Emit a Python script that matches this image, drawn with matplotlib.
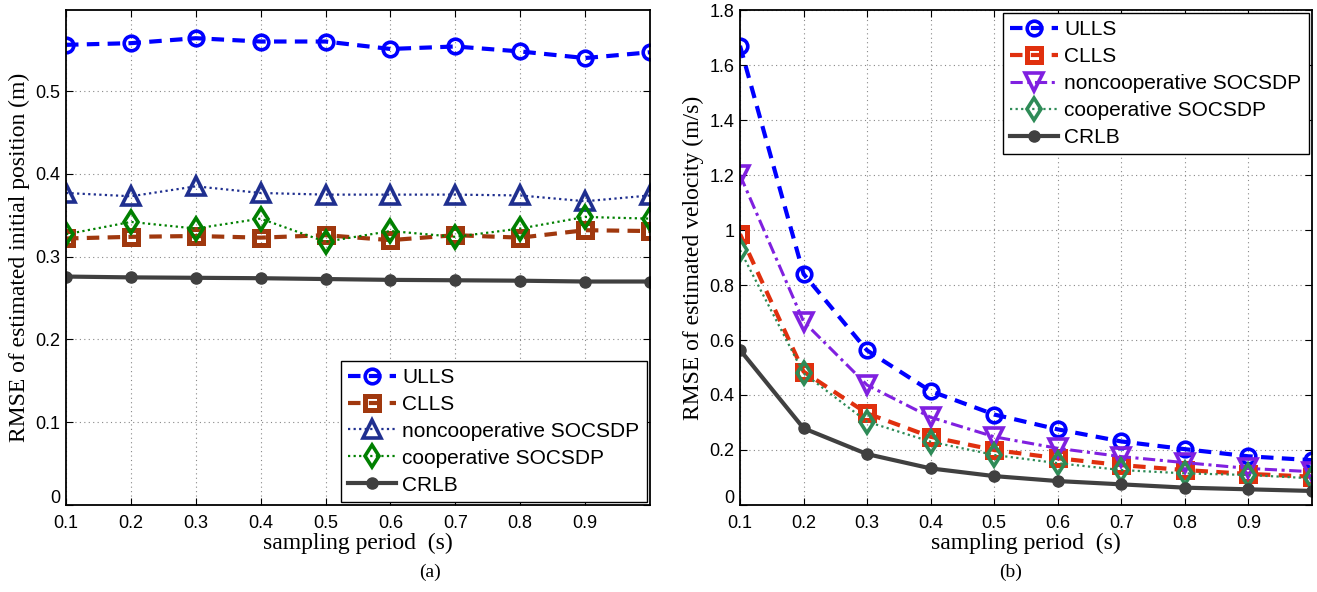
import matplotlib
matplotlib.use("Agg")
import matplotlib.pyplot as plt
import matplotlib.transforms as mtransforms

x = [0.1, 0.2, 0.3, 0.4, 0.5, 0.6, 0.7, 0.8, 0.9, 1.0]
xticks = [0.1, 0.2, 0.3, 0.4, 0.5, 0.6, 0.7, 0.8, 0.9]
labels = ["ULLS", "CLLS", "noncooperative SOCSDP", "cooperative SOCSDP", "CRLB"]

# (a) RMSE of estimated initial position
pos_ulls = [0.556, 0.558, 0.564, 0.560, 0.560, 0.551, 0.554, 0.548, 0.540, 0.547]
pos_clls = [0.322, 0.324, 0.325, 0.323, 0.326, 0.320, 0.326, 0.323, 0.332, 0.331]
pos_nonc = [0.377, 0.373, 0.385, 0.377, 0.375, 0.375, 0.375, 0.374, 0.367, 0.374]
pos_coop = [0.327, 0.342, 0.334, 0.346, 0.318, 0.331, 0.324, 0.334, 0.348, 0.346]
pos_crlb = [0.276, 0.275, 0.2745, 0.274, 0.273, 0.272, 0.2715, 0.271, 0.270, 0.270]

# (b) RMSE of estimated velocity
vel_ulls = [1.67, 0.84, 0.562, 0.414, 0.329, 0.275, 0.231, 0.203, 0.177, 0.163]
vel_clls = [0.985, 0.485, 0.333, 0.248, 0.200, 0.170, 0.145, 0.127, 0.113, 0.103]
vel_nonc = [1.20, 0.667, 0.436, 0.319, 0.248, 0.206, 0.176, 0.154, 0.133, 0.121]
vel_coop = [0.927, 0.479, 0.303, 0.230, 0.182, 0.152, 0.127, 0.115, 0.109, 0.097]
vel_crlb = [0.564, 0.279, 0.185, 0.133, 0.105, 0.087, 0.075, 0.063, 0.057, 0.051]

serif = ["Liberation Serif", "DejaVu Serif"]
sans = ["Liberation Sans", "DejaVu Sans"]

fig = plt.figure(figsize=(13.17, 5.92), dpi=100)
axa = fig.add_axes([0.0501, 0.147, 0.4434, 0.836])
axb = fig.add_axes([0.5619, 0.147, 0.4343, 0.836])

ms = 10.5
mew = 2.6

def style(ax, ylim, yticks, ylabel):
    ax.set_xlim(0.1, 1.0)
    ax.set_ylim(*ylim)
    ax.set_xticks(xticks)
    ax.set_xticklabels([f"{t:g}" for t in xticks], family=sans, fontsize=13)
    ax.set_yticks(yticks)
    ax.set_yticklabels([f"{t:g}" for t in yticks], family=sans, fontsize=13)
    ax.tick_params(direction="in", top=True, right=True, length=5, width=0.8)
    ax.tick_params(axis="x", pad=7)
    ax.tick_params(axis="y", pad=4)
    # lift the "0" label a little so it clears the first x label
    lab0 = ax.get_yticklabels()[0]
    lab0.set_transform(lab0.get_transform() +
                       mtransforms.ScaledTranslation(0, 6 / 72, fig.dpi_scale_trans))
    ax.grid(True, linestyle=(0, (1, 3)), color="#888888", linewidth=0.8)
    for s in ax.spines.values():
        s.set_linewidth(1.3)
    ax.set_xlabel("sampling period  (s)", family=serif, fontsize=17, labelpad=1)
    ax.set_ylabel(ylabel, family=serif, fontsize=17, labelpad=4)

# left panel
axa.plot(x, pos_ulls, linestyle=(0, (3, 2)), lw=3, color="#0000ff", marker="o", ms=ms,
         mfc="none", mew=mew, label=labels[0])
axa.plot(x, pos_clls, linestyle=(0, (3, 2)), lw=3, color="#a0380e", marker="s", ms=ms - 1,
         mfc="none", mew=mew + 1, label=labels[1])
axa.plot(x, pos_nonc, linestyle=(0, (1, 1.5)), lw=1.6, color="#1f2f8f", marker="^", ms=ms + 2,
         mfc="none", mew=mew, label=labels[2])
axa.plot(x, pos_coop, linestyle=(0, (1, 1.5)), lw=1.6, color="#008000", marker="d", ms=ms + 1,
         mfc="none", mew=mew, label=labels[3])
axa.plot(x, pos_crlb, linestyle="-", lw=3, color="#404040", marker="o", ms=8,
         mfc="#404040", mew=1, label=labels[4])
style(axa, (0, 0.598), [0, 0.1, 0.2, 0.3, 0.4, 0.5], "RMSE of estimated initial position (m)")
lga = axa.legend(loc="lower right", prop={"family": sans, "size": 15}, fancybox=False,
                 edgecolor="black", framealpha=1, borderpad=0.35, labelspacing=0.38,
                 handlelength=2.3, handletextpad=0.3, borderaxespad=0.15)
lga.get_frame().set_linewidth(1.0)

# right panel
axb.plot(x, vel_ulls, linestyle=(0, (3, 2)), lw=3, color="#0000ff", marker="o", ms=ms,
         mfc="none", mew=mew, label=labels[0])
axb.plot(x, vel_clls, linestyle=(0, (3, 2)), lw=3, color="#e0300e", marker="s", ms=ms - 1,
         mfc="none", mew=mew + 1, label=labels[1])
axb.plot(x, vel_nonc, linestyle=(0, (4, 1.5, 1, 1.5)), lw=2.2, color="#8020e0", marker="v", ms=ms + 2,
         mfc="none", mew=mew, label=labels[2])
axb.plot(x, vel_coop, linestyle=(0, (1, 1.5)), lw=1.6, color="#2e8b57", marker="d", ms=ms + 1,
         mfc="none", mew=mew, label=labels[3])
axb.plot(x, vel_crlb, linestyle="-", lw=3, color="#404040", marker="o", ms=8,
         mfc="#404040", mew=1, label=labels[4])
style(axb, (0, 1.8), [0, 0.2, 0.4, 0.6, 0.8, 1, 1.2, 1.4, 1.6, 1.8], "RMSE of estimated velocity (m/s)")
lgb = axb.legend(loc="upper right", prop={"family": sans, "size": 15}, fancybox=False,
                 edgecolor="black", framealpha=1, borderpad=0.35, labelspacing=0.38,
                 handlelength=2.3, handletextpad=0.3, borderaxespad=0.15)
lgb.get_frame().set_linewidth(1.0)

fig.text(0.3265, 0.025, "(a)", family=serif, fontsize=14, ha="center")
fig.text(0.767, 0.025, "(b)", family=serif, fontsize=14, ha="center")

fig.savefig("out.png", dpi=100)
